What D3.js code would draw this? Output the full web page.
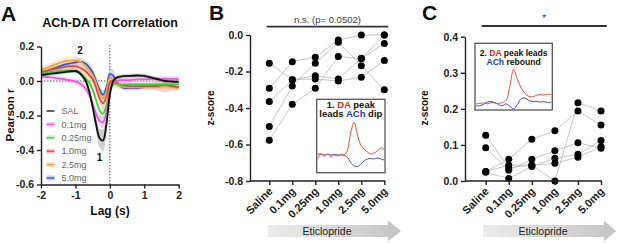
<!DOCTYPE html>
<html>
<head>
<meta charset="utf-8">
<script src="https://cdn.jsdelivr.net/npm/d3@7"></script>
<style>
  body { margin: 0; background: #fff; }
  svg { font-family: "Liberation Sans", Arial, sans-serif; }
</style>
</head>
<body>
<svg id="fig" width="617" height="243"></svg>
<script>
// ---- Panel A: cross-correlation curves ----
const lags = [-2, -1.8, -1.6, -1.4, -1.2, -1.0, -0.9, -0.8, -0.7, -0.6, -0.5, -0.4, -0.3, -0.2, -0.1,
  0, 0.1, 0.2, 0.3, 0.4, 0.6, 0.8, 1.0, 1.2, 1.4, 1.6, 1.8, 2.0];

const seriesNames = ['SAL', '0.1mg', '0.25mg', '1.0mg', '2.5mg', '5.0mg'];
const seriesColors = ['#111111', '#e85ae0', '#3fcf3a', '#e8453c', '#f2a23a', '#3550cc'];
const bandColors = ['#9a9a9a', '#f0a0ec', '#9de89a', '#f0a09a', '#f7cf98', '#9fb0ee'];

const meanSAL = [0.035, 0.04, 0.045, 0.05, 0.055, 0.058, 0.05, 0.03, 0.0, -0.06, -0.15, -0.25, -0.33, -0.345, -0.25,
  -0.08, 0.0, 0.02, 0.025, 0.028, 0.03, 0.032, 0.03, 0.02, 0.01, 0.0, -0.003, -0.005];
const mean01 = [0.025, 0.022, 0.018, 0.012, 0.005, -0.003, -0.01, -0.025, -0.045, -0.08, -0.13, -0.19, -0.23, -0.24, -0.18,
  -0.06, -0.01, 0.0, 0.005, 0.005, 0.005, 0.01, 0.01, 0.012, 0.012, 0.012, 0.012, 0.012];
const mean025 = [0.045, 0.05, 0.055, 0.06, 0.062, 0.058, 0.05, 0.035, 0.015, -0.01, -0.05, -0.11, -0.17, -0.19, -0.14,
  -0.05, -0.02, -0.015, -0.02, -0.02, -0.02, -0.02, -0.02, -0.02, -0.02, -0.02, -0.02, -0.02];
const mean10 = [0.055, 0.06, 0.07, 0.078, 0.085, 0.085, 0.08, 0.07, 0.055, 0.035, 0.01, -0.04, -0.1, -0.13, -0.09,
  -0.01, 0.005, -0.01, -0.02, -0.025, -0.03, -0.03, -0.03, -0.03, -0.028, -0.02, -0.03, -0.035];
const mean25 = [0.065, 0.08, 0.095, 0.11, 0.118, 0.12, 0.115, 0.105, 0.085, 0.06, 0.035, -0.01, -0.07, -0.1, -0.06,
  0.02, 0.01, -0.02, -0.03, -0.035, -0.035, -0.035, -0.035, -0.035, -0.035, -0.03, -0.035, -0.04];
const mean50 = [0.045, 0.06, 0.075, 0.09, 0.1, 0.108, 0.112, 0.11, 0.1, 0.08, 0.05, 0.0, -0.05, -0.08, -0.04,
  0.04, 0.03, -0.01, -0.03, -0.04, -0.04, -0.04, -0.035, -0.03, -0.03, -0.025, -0.03, -0.035];

const semSAL = [0.012, 0.012, 0.012, 0.012, 0.012, 0.012, 0.012, 0.014, 0.018, 0.022, 0.03, 0.04, 0.055, 0.065, 0.05,
  0.03, 0.015, 0.012, 0.012, 0.012, 0.012, 0.012, 0.012, 0.012, 0.012, 0.012, 0.012, 0.012];
const sem01 = [0.012, 0.012, 0.012, 0.012, 0.014, 0.016, 0.018, 0.02, 0.022, 0.025, 0.028, 0.03, 0.032, 0.032, 0.03,
  0.025, 0.018, 0.015, 0.015, 0.015, 0.015, 0.015, 0.015, 0.015, 0.015, 0.015, 0.015, 0.015];
const sem025 = [0.012, 0.012, 0.013, 0.014, 0.015, 0.016, 0.017, 0.018, 0.02, 0.022, 0.025, 0.028, 0.03, 0.03, 0.028,
  0.025, 0.02, 0.015, 0.014, 0.014, 0.014, 0.014, 0.014, 0.014, 0.014, 0.014, 0.014, 0.014];
const sem10 = [0.015, 0.015, 0.016, 0.017, 0.018, 0.018, 0.018, 0.02, 0.022, 0.025, 0.028, 0.03, 0.032, 0.032, 0.03,
  0.04, 0.03, 0.02, 0.015, 0.015, 0.015, 0.015, 0.015, 0.018, 0.028, 0.045, 0.025, 0.015];
const sem25 = [0.018, 0.02, 0.022, 0.024, 0.025, 0.025, 0.024, 0.022, 0.022, 0.022, 0.024, 0.026, 0.028, 0.028, 0.03,
  0.035, 0.03, 0.02, 0.015, 0.015, 0.015, 0.015, 0.015, 0.015, 0.015, 0.018, 0.015, 0.015];
const sem50 = [0.015, 0.016, 0.018, 0.02, 0.02, 0.02, 0.02, 0.02, 0.02, 0.022, 0.024, 0.026, 0.028, 0.028, 0.03,
  0.04, 0.035, 0.02, 0.015, 0.015, 0.015, 0.015, 0.015, 0.015, 0.015, 0.015, 0.015, 0.015];

const means = [meanSAL, mean01, mean025, mean10, mean25, mean50];
const sems = [semSAL, sem01, sem025, sem10, sem25, sem50];

// ---- Panels B and C: per-animal z-scores ----
const doses = ['Saline', '0.1mg', '0.25mg', '1.0mg', '2.5mg', '5.0mg'];

const dipScores = [
  [-0.155, -0.245, -0.241, -0.252, -0.232, -0.14],
  [-0.292, -0.146, -0.122, -0.027, 0.0, 0.0],
  [-0.365, -0.245, -0.223, -0.241, -0.128, -0.046],
  [-0.502, -0.279, -0.155, -0.04, -0.168, -0.30],
  [-0.577, -0.38, -0.292, -0.118, -0.13, 0.0]
];
const reboundScores = [
  [0.127, 0.037, 0.044, 0.0, 0.217, 0.194],
  [0.092, 0.030, 0.060, 0.084, 0.106, 0.091],
  [0.026, 0.060, 0.116, 0.139, 0.194, 0.155],
  [0.024, 0.007, 0.040, 0.063, 0.074, 0.112],
  [0.026, 0.044, 0.044, 0.049, 0.066, 0.095]
];

// inset traces (relative amplitude, evenly spaced in time)
const insetDipDA = [0.22, 0.32, 0.28, 0.32, 0.26, 0.30, 0.28, 0.32, 0.30, 0.40, 0.76, 0.95, 0.70, 0.50, 0.42, 0.36, 0.32, 0.34, 0.38, 0.44, 0.42];
const insetDipACh = [0.32, 0.32, 0.30, 0.31, 0.30, 0.31, 0.30, 0.30, 0.29, 0.25, 0.15, 0.08, 0.07, 0.12, 0.18, 0.22, 0.23, 0.22, 0.24, 0.22, 0.20];
const insetRebDA = [0.14, 0.15, 0.16, 0.14, 0.17, 0.16, 0.15, 0.17, 0.22, 0.55, 0.92, 0.70, 0.50, 0.38, 0.31, 0.30, 0.33, 0.35, 0.34, 0.36, 0.35];
const insetRebACh = [0.09, 0.10, 0.13, 0.18, 0.19, 0.17, 0.12, 0.10, 0.14, 0.08, 0.03, 0.12, 0.26, 0.27, 0.22, 0.19, 0.20, 0.18, 0.19, 0.17, 0.18];

const svg = d3.select('#fig');
const ink = '#222';
const tickFont = '10.5px';

function styleAxis(g) {
  g.selectAll('path.domain').attr('stroke', ink).attr('stroke-width', 1.4);
  g.selectAll('.tick line').attr('stroke', ink).attr('stroke-width', 1.4);
  g.selectAll('.tick text').attr('fill', ink).style('font-size', tickFont).style('font-weight', 'bold');
}

function panelLetter(x, y, t) {
  svg.append('text').attr('x', x).attr('y', y).text(t)
    .style('font-size', '21px').style('font-weight', 'bold').attr('fill', '#111');
}

// ================= Panel A =================
const xA = d3.scaleLinear().domain([-2, 2]).range([41, 178.7]);
const yA = d3.scaleLinear().domain([-0.6, 0.2]).range([184.5, 46.5]);
const gA = svg.append('g');

panelLetter(1, 21, 'A');
gA.append('text').attr('x', 110).attr('y', 27).attr('text-anchor', 'middle')
  .text('ACh-DA ITI Correlation').style('font-size', '12.5px').style('font-weight', 'bold').attr('fill', '#111');

// reference dotted lines
gA.append('line').attr('x1', xA(-2)).attr('x2', xA(2)).attr('y1', yA(0)).attr('y2', yA(0))
  .attr('stroke', '#555').attr('stroke-width', 1).attr('stroke-dasharray', '1.5,1.5');
gA.append('line').attr('x1', xA(0)).attr('x2', xA(0)).attr('y1', 45).attr('y2', yA(-0.6))
  .attr('stroke', '#555').attr('stroke-width', 1).attr('stroke-dasharray', '1.5,1.5');

const area = d3.area()
  .x((d, i) => xA(lags[i]))
  .y0(d => yA(d[0] - d[1]))
  .y1(d => yA(d[0] + d[1]))
  .curve(d3.curveCatmullRom);
const line = d3.line()
  .x((d, i) => xA(lags[i]))
  .y(d => yA(d))
  .curve(d3.curveCatmullRom);

const drawOrder = [5, 4, 3, 2, 1, 0];
drawOrder.forEach(k => {
  gA.append('path')
    .datum(means[k].map((m, i) => [m, sems[k][i]]))
    .attr('d', area)
    .attr('fill', bandColors[k])
    .attr('fill-opacity', 0.45);
});
drawOrder.forEach(k => {
  gA.append('path')
    .datum(means[k])
    .attr('d', line)
    .attr('fill', 'none')
    .attr('stroke', seriesColors[k])
    .attr('stroke-width', k === 0 ? 1.9 : 1.7);
});

gA.append('text').attr('x', 80).attr('y', 54).attr('text-anchor', 'middle').text('2')
  .style('font-size', '10px').style('font-weight', 'bold').attr('fill', '#111');
gA.append('text').attr('x', 99.5).attr('y', 161).attr('text-anchor', 'middle').text('1')
  .style('font-size', '10px').style('font-weight', 'bold').attr('fill', '#111');

// legend
const legA = gA.append('g');
seriesNames.forEach((name, i) => {
  const yy = 111 + i * 13.4;
  if (i > 0) {
    legA.append('rect').attr('x', 46.5).attr('y', yy - 2.5).attr('width', 8).attr('height', 5)
      .attr('fill', bandColors[i]).attr('fill-opacity', 0.6);
  }
  legA.append('line').attr('x1', 46.5).attr('x2', 54.5).attr('y1', yy).attr('y2', yy)
    .attr('stroke', seriesColors[i]).attr('stroke-width', 1.3);
  legA.append('text').attr('x', 61.5).attr('y', yy + 3.2).text(name)
    .style('font-size', '9px').attr('fill', '#666');
});

// axes
const axA_y = gA.append('g').attr('transform', `translate(${xA(-2)},0)`)
  .call(d3.axisLeft(yA).tickValues([0.2, 0, -0.2, -0.4, -0.6]).tickFormat(d => d.toFixed(1)).tickSize(4).tickSizeOuter(0));
styleAxis(axA_y);
const axA_x = gA.append('g').attr('transform', `translate(0,${yA(-0.6)})`)
  .call(d3.axisBottom(xA).tickValues([-2, -1, 0, 1, 2]).tickFormat(d => String(d)).tickSize(4).tickSizeOuter(0));
styleAxis(axA_x);

gA.append('text').attr('x', 110).attr('y', 215).attr('text-anchor', 'middle').text('Lag (s)')
  .style('font-size', '12px').style('font-weight', 'bold').attr('fill', '#111');
gA.append('text').attr('transform', 'translate(14,115) rotate(-90)').attr('text-anchor', 'middle')
  .text('Pearson r').style('font-size', '11.5px').style('font-weight', 'bold').attr('fill', '#111');

// ================= Scatter panels =================
function scatterPanel(opts) {
  const g = svg.append('g');
  const x = d3.scalePoint().domain(doses).range(opts.xr);
  const y = d3.scaleLinear().domain(opts.yd).range([181, opts.yTop]);

  // subject lines
  opts.data.forEach(s => {
    g.append('path').datum(s)
      .attr('d', d3.line().x((d, i) => x(doses[i])).y(d => y(d)))
      .attr('fill', 'none').attr('stroke', '#b8b8b8').attr('stroke-width', 0.8);
  });

  // inset
  const ib = opts.inset;
  const ig = g.append('g');
  ig.append('rect').attr('x', ib.x0).attr('y', ib.y0).attr('width', ib.x1 - ib.x0).attr('height', ib.y1 - ib.y0)
    .attr('fill', '#fff').attr('stroke', '#555').attr('stroke-width', 1.3);
  const ix = d3.scaleLinear().domain([0, ib.da.length - 1]).range([ib.x0 + 1, ib.x1 - 1]);
  const iy = d3.scaleLinear().domain([0, 1]).range(ib.yr);
  const il = d3.line().x((d, i) => ix(i)).y(d => iy(d)).curve(d3.curveCatmullRom);
  ig.append('path').datum(ib.ach).attr('d', il).attr('fill', 'none').attr('stroke', '#3a4fd8').attr('stroke-width', 1);
  ig.append('path').datum(ib.da).attr('d', il).attr('fill', 'none').attr('stroke', '#e4533d').attr('stroke-width', 1);
  ib.lines.forEach((parts, li) => {
    const t = ig.append('text').attr('x', (ib.x0 + ib.x1) / 2).attr('y', ib.ty + li * ib.lh)
      .attr('text-anchor', 'middle').style('font-size', ib.fs).style('font-weight', 'bold');
    parts.forEach(p => t.append('tspan').text(p[0]).attr('fill', p[1]));
  });

  // points
  opts.data.forEach(s => {
    g.selectAll(null).data(s).join('circle')
      .attr('cx', (d, i) => x(doses[i])).attr('cy', d => y(d)).attr('r', 3.5).attr('fill', '#000');
  });

  // axes
  const ay = g.append('g').attr('transform', `translate(${opts.axisX},0)`)
    .call(d3.axisLeft(y).tickValues(opts.ticks).tickFormat(d => d.toFixed(1)).tickSize(4).tickSizeOuter(0));
  styleAxis(ay);
  const ax = g.append('g').attr('transform', 'translate(0,181)')
    .call(d3.axisBottom(x).tickSize(4).tickFormat(''));
  ax.select('.domain').remove();
  styleAxis(ax);
  g.append('line').attr('x1', opts.axisX).attr('x2', opts.xr[1] + 1).attr('y1', 181).attr('y2', 181)
    .attr('stroke', ink).attr('stroke-width', 1.4);
  doses.forEach(d => {
    g.append('text').attr('transform', `translate(${x(d) + 4},${192}) rotate(-45)`)
      .attr('text-anchor', 'end').text(d)
      .style('font-size', '11px').style('font-weight', 'bold').attr('fill', ink);
  });

  g.append('text').attr('transform', `translate(${opts.labX},${opts.labY}) rotate(-90)`).attr('text-anchor', 'middle')
    .text('z-score').style('font-size', '10px').style('font-weight', 'bold').attr('fill', '#111');

  // significance bar
  g.append('line').attr('x1', opts.bar[0]).attr('x2', opts.bar[1]).attr('y1', opts.barY).attr('y2', opts.barY)
    .attr('stroke', '#333').attr('stroke-width', 1.8);
  g.append('text').attr('x', (opts.bar[0] + opts.bar[1]) / 2).attr('y', opts.barY - 4).attr('text-anchor', 'middle')
    .text(opts.sig).style('font-size', opts.sigFs).attr('fill', '#444');

  // drug arrow
  const gid = 'grad' + opts.id;
  const grad = svg.append('defs').append('linearGradient').attr('id', gid);
  grad.append('stop').attr('offset', '0%').attr('stop-color', '#ececec');
  grad.append('stop').attr('offset', '100%').attr('stop-color', '#c4c4c4');
  const a0 = opts.arrow[0], a1 = opts.arrow[1], a2 = opts.arrow[2];
  g.append('path')
    .attr('d', `M${a0},225 L${a1},225 L${a1},220.5 L${a2},231 L${a1},241.5 L${a1},237 L${a0},237 Z`)
    .attr('fill', `url(#${gid})`);
  g.append('text').attr('x', opts.etiX).attr('y', 235).attr('text-anchor', 'middle').text('Eticlopride')
    .style('font-size', '10.5px').attr('fill', '#222');
}

panelLetter(209, 20, 'B');
scatterPanel({
  id: 'B',
  data: dipScores,
  xr: [269.3, 384.3], yd: [-0.8, 0], yTop: 35, axisX: 250,
  ticks: [0, -0.2, -0.4, -0.6, -0.8],
  labX: 214, labY: 108,
  bar: [266.7, 388.3], barY: 26.7, sig: 'n.s. (p= 0.0502)', sigFs: '9.5px',
  arrow: [268, 388, 401], etiX: 327,
  inset: {
    x0: 316.7, x1: 385, y0: 99.3, y1: 172.7, yr: [170, 120],
    da: insetDipDA, ach: insetDipACh, ty: 107.5, lh: 9.6, fs: '9.5px',
    lines: [[['1. ', '#111'], ['DA', '#e0281f'], [' peak', '#111']],
            [['leads ', '#111'], ['ACh', '#2438d0'], [' dip', '#111']]]
  }
});

panelLetter(422, 20, 'C');
scatterPanel({
  id: 'C',
  data: reboundScores,
  xr: [485.7, 601], yd: [0, 0.4], yTop: 36.7, axisX: 465,
  ticks: [0, 0.1, 0.2, 0.3, 0.4],
  labX: 428, labY: 108,
  bar: [481.7, 606.7], barY: 26, sig: '*', sigFs: '11px',
  arrow: [483, 604, 616], etiX: 543,
  inset: {
    x0: 475, x1: 552.3, y0: 43.3, y1: 110, yr: [110, 66],
    da: insetRebDA, ach: insetRebACh, ty: 55.5, lh: 9.2, fs: '8.6px',
    lines: [[['2. ', '#111'], ['DA', '#e0281f'], [' peak leads', '#111']],
            [['ACh', '#2438d0'], [' rebound', '#111']]]
  }
});
</script>
</body>
</html>
